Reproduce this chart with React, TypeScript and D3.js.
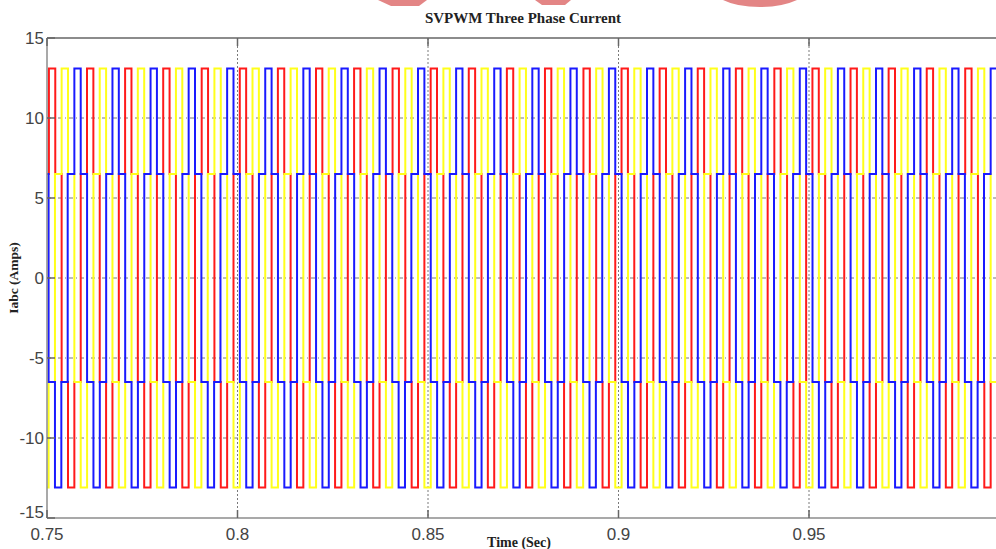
import React, { useMemo } from "react";
import * as d3 from "d3";

const width = 996;
const height = 549;
const margin = { top: 38, left: 47, bottom: 518, right: 999.5 };

// axis ticks
const xTicks = [0.75, 0.8, 0.85, 0.9, 0.95];
const xTickLabels = ["0.75", "0.8", "0.85", "0.9", "0.95"];
const yTicks = [15, 10, 5, 0, -5, -10, -15];

// start time of the +13.1 A step of phase a, one per cycle
const cycleStarts = [
  0.7404, 0.7505, 0.7605, 0.7705, 0.7805, 0.7906, 0.8006, 0.8106, 0.8206,
  0.8306, 0.8407, 0.8507, 0.8607, 0.8707, 0.8807, 0.8908, 0.9008, 0.9108,
  0.9208, 0.9308, 0.9409, 0.9509, 0.9609, 0.9709, 0.9809, 0.991, 1.001,
];

// six-step levels in one cycle (Amps)
const stepLevels = [13.1, 6.5, -6.5, -13.1, -6.5, 6.5];
const stepWidth = 0.00167;

// phase a, b, c
const phaseShifts = [0, 0.00334, 0.00668];
const phaseColors = ["#ff1a1a", "#ffff1a", "#1a1aff"];

export default function App() {
  const x = useMemo(
    () => d3.scaleLinear().domain([0.75, 1.0]).range([margin.left, margin.right]),
    []
  );
  const y = useMemo(
    () => d3.scaleLinear().domain([-15, 15]).range([margin.bottom, margin.top]),
    []
  );

  const series = phaseShifts.map(shift => {
    const pts: [number, number][] = [];
    cycleStarts.forEach(s => {
      stepLevels.forEach((lv, i) => {
        pts.push([s + shift + i * stepWidth, lv]);
      });
    });
    return pts;
  });

  const line = d3
    .line<[number, number]>()
    .x(d => x(d[0]))
    .y(d => y(d[1]))
    .curve(d3.curveStepAfter);

  const axisColor = "#8c8c8c";
  const labelColor = "#444";

  return (
    <svg
      width={width}
      height={height}
      style={{ position: "absolute", left: 0, top: 0, background: "#fff" }}
    >
      <defs>
        <clipPath id="plot">
          <rect
            x={margin.left}
            y={margin.top}
            width={margin.right - margin.left}
            height={margin.bottom - margin.top}
          />
        </clipPath>
      </defs>

      {/* watermark remnants at the top edge */}
      <g fill="#e07878" opacity={0.9}>
        <path d="M378,0 L427,0 L419,6 L391,6 Z" />
        <path d="M535,0 L571,0 L565,5 L542,5 Z" />
        <path d="M723,0 L797,0 Q782,7 760,7 Q737,7 723,0 Z" />
      </g>

      {/* grid */}
      <g stroke="#7a7a7a" strokeWidth={1} fill="none">
        {xTicks.slice(1).map(t => (
          <line
            key={"gx" + t}
            x1={x(t)}
            x2={x(t)}
            y1={margin.top}
            y2={margin.bottom}
            strokeDasharray="2,2"
          />
        ))}
        {yTicks.slice(1, -1).map(t => (
          <line
            key={"gy" + t}
            x1={margin.left}
            x2={margin.right}
            y1={y(t)}
            y2={y(t)}
            strokeDasharray="4,3,1,3"
          />
        ))}
      </g>

      {/* currents */}
      <g clipPath="url(#plot)" fill="none" strokeWidth={2}>
        {series.map((pts, i) => (
          <path key={i} d={line(pts) || ""} stroke={phaseColors[i]} />
        ))}
      </g>

      {/* axes box */}
      <g stroke={axisColor} fill="none">
        <line x1={margin.left} x2={margin.right} y1={margin.top} y2={margin.top} strokeWidth={2} />
        <line x1={margin.left} x2={margin.right} y1={margin.bottom} y2={margin.bottom} strokeWidth={1.5} />
        <line x1={margin.left} x2={margin.left} y1={margin.top} y2={margin.bottom} strokeWidth={1.5} />
        {xTicks.map(t => (
          <g key={"tx" + t}>
            <line x1={x(t)} x2={x(t)} y1={margin.top} y2={margin.top + 8} strokeWidth={1.5} stroke="#666" />
            <line x1={x(t)} x2={x(t)} y1={margin.bottom} y2={margin.bottom - 8} strokeWidth={1.5} stroke="#666" />
          </g>
        ))}
        {yTicks.map(t => (
          <line key={"ty" + t} x1={margin.left} x2={margin.left + 8} y1={y(t)} y2={y(t)} strokeWidth={1.5} stroke="#666" />
        ))}
      </g>

      {/* tick labels */}
      <g fontFamily="Arial, 'Liberation Sans', sans-serif" fontSize={17} fill={labelColor}>
        {yTicks.map(t => (
          <text
            key={"ly" + t}
            x={margin.left - 3}
            y={y(t) - (t === -15 ? 6 : 0)}
            dy="0.35em"
            textAnchor="end"
          >
            {t}
          </text>
        ))}
        {xTicks.map((t, i) => (
          <text key={"lx" + t} x={x(t)} y={margin.bottom + 22} textAnchor="middle">
            {xTickLabels[i]}
          </text>
        ))}
      </g>

      {/* titles */}
      <g fontFamily="'Times New Roman', 'Liberation Serif', serif" fontWeight="bold" fill="#222">
        <text x={523} y={23} fontSize={15} textAnchor="middle">
          SVPWM Three Phase Current
        </text>
        <text x={519} y={547} fontSize={14} textAnchor="middle">
          Time (Sec)
        </text>
        <text
          transform={`translate(18, ${(margin.top + margin.bottom) / 2}) rotate(-90)`}
          fontSize={13.5}
          textAnchor="middle"
        >
          Iabc (Amps)
        </text>
      </g>
    </svg>
  );
}
